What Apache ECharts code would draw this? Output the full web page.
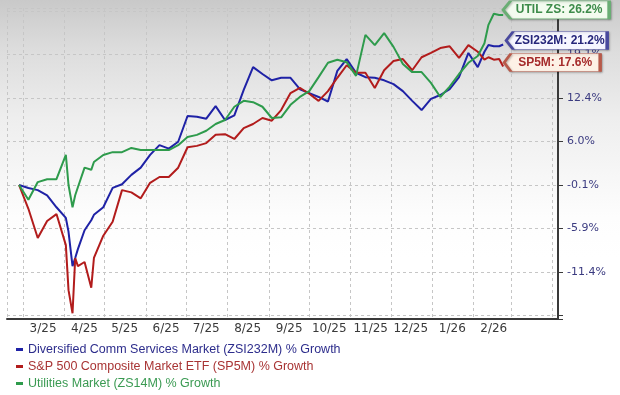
<!DOCTYPE html>
<html><head><meta charset="utf-8">
<script src="https://cdn.jsdelivr.net/npm/echarts@6.0.0/dist/echarts.min.js"></script>
<style>html,body{margin:0;padding:0;background:#fff}#c{width:620px;height:395px}</style>
</head><body><div id="c"></div>
<script>
const dates = ['2025-02-26','2025-03-05','2025-03-12','2025-03-19','2025-03-26','2025-04-02','2025-04-04','2025-04-07','2025-04-09','2025-04-11','2025-04-16','2025-04-21','2025-04-23','2025-04-30','2025-05-07','2025-05-14','2025-05-21','2025-05-28','2025-06-04','2025-06-11','2025-06-18','2025-06-25','2025-07-02','2025-07-09','2025-07-16','2025-07-23','2025-07-30','2025-08-06','2025-08-13','2025-08-20','2025-08-27','2025-09-03','2025-09-10','2025-09-17','2025-09-24','2025-10-01','2025-10-08','2025-10-15','2025-10-22','2025-10-29','2025-11-05','2025-11-12','2025-11-19','2025-11-26','2025-12-03','2025-12-10','2025-12-17','2025-12-24','2025-12-31','2026-01-07','2026-01-14','2026-01-21','2026-01-28','2026-02-04','2026-02-09','2026-02-12','2026-02-16','2026-02-20','2026-02-23'];

const zsiGrowth = [0.0,-0.4,-0.7,-1.4,-3.0,-4.4,-6.2,-10.5,-9.5,-8.4,-6.0,-4.7,-4.0,-3.0,-0.4,0.1,1.4,2.4,4.2,5.6,5.1,6.1,9.9,9.8,9.5,11.4,9.3,10.0,13.9,17.5,16.4,15.4,15.8,15.8,14.0,13.4,12.8,12.1,16.9,18.8,16.6,15.9,15.8,15.4,14.8,13.7,12.2,10.8,12.5,13.1,14.0,15.9,19.8,17.5,20.0,21.1,20.9,20.9,21.2];

const sp5Growth = [0.0,-3.2,-7.0,-4.8,-3.9,-7.9,-13.4,-16.1,-9.5,-10.5,-10.0,-13.1,-9.5,-6.7,-4.9,-0.7,-1.0,-1.8,0.3,1.1,1.1,2.4,5.3,5.5,5.9,7.1,7.2,6.5,8.1,8.7,9.6,9.2,10.8,13.4,14.2,13.3,12.2,13.7,15.8,17.8,16.6,16.6,14.2,17.0,18.5,18.8,17.0,19.1,19.8,20.6,20.9,19.0,21.1,20.0,18.7,19.1,18.7,18.8,17.6];

const utilGrowth = [0.0,-2.0,0.4,0.8,0.8,4.2,0.0,-3.0,-1.4,-0.3,2.4,2.1,3.2,4.2,4.6,4.6,5.2,4.9,4.9,4.9,4.9,5.6,6.8,7.1,7.7,8.7,9.3,11.3,12.2,12.0,11.3,9.6,9.7,11.6,12.8,13.7,15.9,18.2,18.7,18.3,16.1,22.8,21.1,23.1,20.8,18.0,16.7,16.7,15.0,12.8,14.4,16.4,18.2,19.3,21.4,24.5,26.4,26.2,26.2];

const seriesNames = ['Diversified Comm Services Market (ZSI232M) % Growth','S&P 500 Composite Market ETF (SP5M) % Growth','Utilities Market (ZS14M) % Growth'];
const endLabels = ['ZSI232M: 21.2%','SP5M: 17.6%','UTIL ZS: 26.2%'];
const xLabels = ['3/25','4/25','5/25','6/25','7/25','8/25','9/25','10/25','11/25','12/25','1/26','2/26'];
const yLabels = ['-11.4%','-5.9%','-0.1%','6.0%','12.4%','19.1%'];

const LOG_BASE = 1.0613;
const lineColors = ['#1f22a6','#b21c1c','#2e9b4c'];
const legendText = ['#2d2d8c','#a83434','#3a9a52'];
const boxFill = ['#f6f6ff','#fdf1e6','#f3fbef'];
const boxBorder = ['#4a4a9e','#b85a4a','#6aae74'];
const boxText = ['#26267a','#a52a2a','#3d8b4a'];
const boxW = [101, 96, 106];
const boxOff = [[53.5,-4],[49,-4],[53,-5]];

const chart = echarts.init(document.getElementById('c'), null, {renderer:'canvas'});
const growthSets = [zsiGrowth, sp5Growth, utilGrowth];

const series = growthSets.map((arr, i) => {
  const pts = arr.map((g, j) => [dates[j], 1 + g / 100]);
  const last = pts[pts.length - 1];
  return {
    name: seriesNames[i], type: 'line', data: pts,
    showSymbol: false, symbol: 'none',
    lineStyle: {width: 2, color: lineColors[i]},
    itemStyle: {color: lineColors[i]},
    z: 3 + i,
    markPoint: {
      silent: true, animation: false,
      symbol: 'path://M0,9L7,0L100,0L100,18L7,18Z',
      symbolSize: [boxW[i], 18],
      symbolKeepAspect: false,
      symbolOffset: boxOff[i],
      itemStyle: {color: boxFill[i], borderColor: boxBorder[i], borderWidth: 1.5,
                  shadowBlur: 2, shadowColor: 'rgba(0,0,0,0.25)', shadowOffsetX: 1, shadowOffsetY: 1},
      label: {show: true, position: 'inside', offset: [3, 0], formatter: endLabels[i],
              color: boxText[i], fontWeight: 'bold', fontSize: 12, fontFamily: 'Liberation Sans, Arial'},
      data: [{coord: last}]
    }
  };
});

chart.setOption({
  animation: false,
  backgroundColor: new echarts.graphic.LinearGradient(0, 0, 0, 1, [
    {offset: 0, color: '#c9c9c9'}, {offset: 0.12, color: '#dcdcdc'},
    {offset: 0.3, color: '#eeeeee'}, {offset: 0.55, color: '#fdfdfd'}, {offset: 0.65, color: '#ffffff'}]),
  grid: {left: 7, right: 62, top: 8, bottom: 76, containLabel: false},
  legend: {
    orient: 'vertical', left: 16, top: 343, padding: 0, itemGap: 4,
    itemWidth: 7, itemHeight: 3, icon: 'rect',
    data: seriesNames.map((n, i) => ({name: n, textStyle: {color: legendText[i]}})),
    textStyle: {fontSize: 12.5, lineHeight: 12, fontFamily: 'Liberation Sans, Arial'}
  },
  xAxis: {
    type: 'time', min: '2025-02-17', max: '2026-04-05',
    splitNumber: 14, minInterval: 28 * 86400000, maxInterval: 31 * 86400000,
    axisLine: {show: true, lineStyle: {color: '#3a3a3a', width: 2}},
    axisTick: {show: false},
    splitLine: {show: true, lineStyle: {color: '#c6c6c6', type: [3, 3], width: 1}},
    axisLabel: {
      margin: 4, color: '#3a3a3a', fontSize: 12, fontFamily: 'DejaVu Sans',
      padding: [0, 0, 0, 40], hideOverlap: false,
      formatter: function (val) {
        const d = new Date(val);
        if (d.getDate() !== 1) return '';
        const idx = (d.getFullYear() - 2025) * 12 + d.getMonth() - 2;
        return xLabels[idx] || '';
      }
    }
  },
  yAxis: {
    type: 'log', logBase: LOG_BASE, position: 'right',
    min: 0.8325, max: 1.274,
    axisLine: {show: true, lineStyle: {color: '#3a3a3a', width: 2}},
    axisTick: {show: true, length: 5, lineStyle: {color: '#3a3a3a'}},
    splitLine: {show: true, lineStyle: {color: '#c6c6c6', type: [3, 3], width: 1}},
    axisLabel: {
      margin: 9, color: '#3b3b80', fontSize: 11, fontFamily: 'DejaVu Sans',
      formatter: function (v) {
        const kf = Math.log(v) / Math.log(LOG_BASE);
        const k = Math.round(kf);
        if (Math.abs(kf - k) > 0.02) return '';
        return yLabels[k + 2] || '';
      }
    }
  },
  series: series
});
</script></body></html>
